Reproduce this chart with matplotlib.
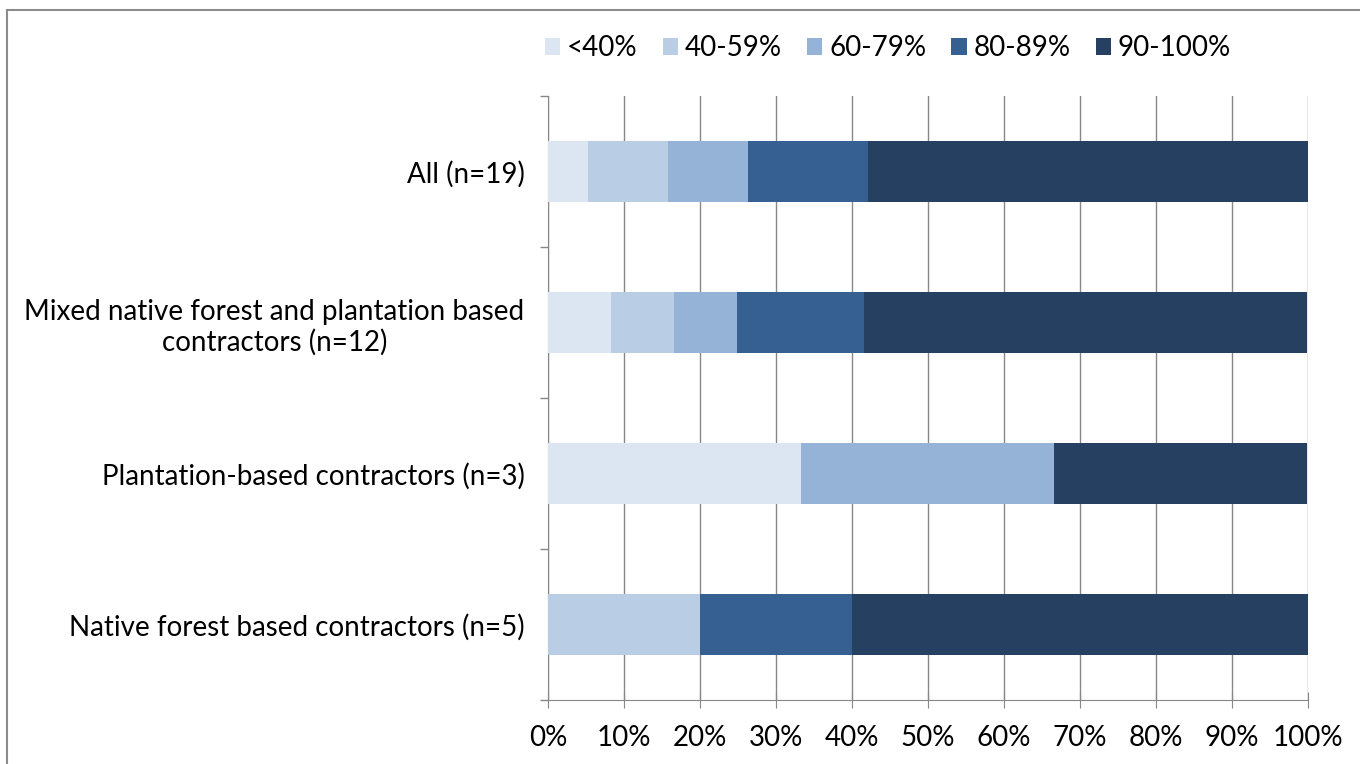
import numpy as np
import matplotlib.pyplot as plt
from matplotlib.ticker import FixedLocator, PercentFormatter

plt.rcParams['font.family'] = ['Lato', 'DejaVu Sans']

groups = ['All (n=19)',
          'Mixed native forest and plantation based\ncontractors (n=12)',
          'Plantation-based contractors (n=3)',
          'Native forest based contractors (n=5)']
bands = ['<40%', '40-59%', '60-79%', '80-89%', '90-100%']

# share of contractors (%) in each band, per group
lt40 = [5.3, 8.3, 33.3, 0.0]
b40_59 = [10.5, 8.3, 0.0, 20.0]
b60_79 = [10.5, 8.3, 33.3, 0.0]
b80_89 = [15.8, 16.7, 0.0, 20.0]
b90_100 = [57.9, 58.3, 33.3, 60.0]

colors = ['#dce6f2', '#b9cde5', '#95b3d7', '#366092', '#254061']

fig = plt.figure(figsize=(13.6, 7.64), dpi=100)
ax = fig.add_axes([548/1360, 1-700/764, 760/1360, 604/764])

ypos = np.arange(len(groups))
left = np.zeros(len(groups))
for vals, lab, c in zip([lt40, b40_59, b60_79, b80_89, b90_100], bands, colors):
    ax.barh(ypos, vals, left=left, height=0.4, color=c, label=lab, zorder=3)
    left += np.array(vals)

ax.set_xlim(0, 100)
ax.set_ylim(3.5, -0.5)
ax.xaxis.set_major_locator(FixedLocator(np.arange(0, 101, 10)))
ax.xaxis.set_major_formatter(PercentFormatter(decimals=0))
ax.grid(axis='x', color='#878787', lw=1, zorder=0)

ax.set_yticks(np.arange(-0.5, 3.6, 1.0))
ax.set_yticklabels([])
ax.set_yticks(ypos, minor=True)
ax.set_yticklabels(groups, minor=True, ha='right', multialignment='center')
ax.tick_params(axis='y', which='major', length=6, color='#878787', width=1)
ax.tick_params(axis='y', which='minor', length=0, pad=17, labelsize=20)
ax.tick_params(axis='x', length=12, direction='inout', color='#878787',
               labelsize=20, pad=12)

for s in ['top', 'right']:
    ax.spines[s].set_visible(False)
for s in ['left', 'bottom']:
    ax.spines[s].set_color('#878787')

fig.legend(loc='center', bbox_to_anchor=(888/1360, 1-48/764), ncol=5,
           frameon=False, fontsize=20, handlelength=0.55, handleheight=0.55,
           handletextpad=0.25, columnspacing=0.9)

# frame around the chart area
fig.add_artist(plt.Line2D([7/1360, 1], [1-10/764, 1-10/764], color='#8c8c8c', lw=1.5))
fig.add_artist(plt.Line2D([7/1360, 7/1360], [0, 1-10/764], color='#8c8c8c', lw=1.5))

fig.savefig('out.png', dpi=100)
